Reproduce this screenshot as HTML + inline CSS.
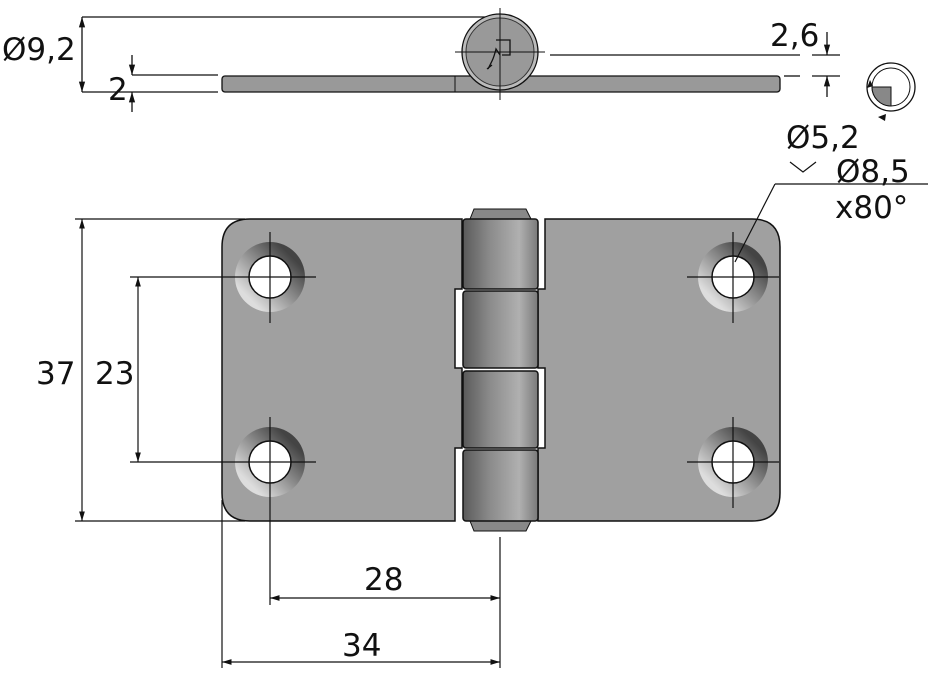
<!DOCTYPE html>
<html><head><style>
body{margin:0;background:#fff;width:945px;height:680px;overflow:hidden}
text{font-family:"DejaVu Sans","Liberation Sans",sans-serif;fill:#111}
</style></head><body>
<svg width="945" height="680" viewBox="0 0 945 680" xmlns="http://www.w3.org/2000/svg">
<defs>
<linearGradient id="kn" x1="0" x2="1">
<stop offset="0" stop-color="#5a5a5a"/><stop offset="0.35" stop-color="#8a8a8a"/><stop offset="0.75" stop-color="#b0b0b0"/><stop offset="1" stop-color="#7a7a7a"/></linearGradient>
<linearGradient id="csl" x1="0.8" y1="0.2" x2="0.2" y2="0.8"><stop offset="0" stop-color="#444"/><stop offset="1" stop-color="#ddd"/></linearGradient>
<marker id="a" viewBox="0 0 10 10" refX="10" refY="5" markerWidth="8" markerHeight="8" orient="auto-start-reverse"><path d="M0,2 L10,5 L0,8z" fill="#111"/></marker>
</defs>
<g stroke="#111" stroke-width="1.3" fill="none">
<line x1="82" y1="17" x2="505" y2="17"/>
<line x1="82" y1="17" x2="82" y2="92" marker-start="url(#a)" marker-end="url(#a)"/>
<line x1="82" y1="92" x2="218" y2="92"/>
<line x1="132" y1="75" x2="218" y2="75"/>
<line x1="132" y1="55" x2="132" y2="75" marker-end="url(#a)"/>
<line x1="132" y1="112" x2="132" y2="92" marker-end="url(#a)"/>
<line x1="550" y1="55" x2="800" y2="55"/>
<line x1="784" y1="76" x2="800" y2="76"/>
<line x1="827" y1="32" x2="827" y2="55" marker-end="url(#a)"/>
<line x1="827" y1="97" x2="827" y2="76" marker-end="url(#a)"/>
<line x1="812" y1="55" x2="840" y2="55"/><line x1="812" y1="76" x2="840" y2="76"/>
</g>
<rect x="222" y="76" width="558" height="16" rx="3" fill="#999" stroke="#111" stroke-width="1.3"/>
<line x1="455" y1="76" x2="455" y2="92" stroke="#111"/>
<circle cx="500" cy="52" r="38" fill="#bbb" stroke="#111" stroke-width="1.3"/>
<circle cx="500" cy="52" r="34" fill="#999" stroke="#333"/>
<g stroke="#111" stroke-width="1"><line x1="500" y1="8" x2="500" y2="100"/><line x1="455" y1="52" x2="545" y2="52"/></g>
<path d="M496,40 h14 v15 h-8 M500,55 l-4,-6 q-2,8 -4,12 l-4,8 M487,69 l5,-4" stroke="#111" fill="none" stroke-width="1.3"/>
<circle cx="891" cy="87" r="24" fill="none" stroke="#111" stroke-width="1.3"/>
<circle cx="891" cy="87" r="19" fill="none" stroke="#111" stroke-width="1"/>
<path d="M872,87 h19 v19 a19,19 0 0 1 -19,-19z" fill="#888" stroke="#111"/>
<path d="M886,114 l-8,3 l7,4z" fill="#111"/>
<path d="M870,80 l-3,8 l6,-2z" fill="#111"/>
<path d="M250,219 H462 V289 H455 V368 H462 V448 H455 V521 H250 Q222,521 222,493 V247 Q222,219 250,219Z" fill="#a0a0a0" stroke="#111" stroke-width="1.5"/>
<path d="M545,219 H752 Q780,219 780,247 V493 Q780,521 752,521 H538 V448 H545 V368 H538 V289 H545Z" fill="#a0a0a0" stroke="#111" stroke-width="1.5"/>
<path d="M470,219 L474,209 H526 L531,219Z" fill="#888" stroke="#111"/>
<path d="M470,521 L474,531 H526 L531,521Z" fill="#888" stroke="#111"/>
<g fill="url(#kn)" stroke="#111" stroke-width="1.5">
<rect x="463" y="219" width="75" height="70" rx="3"/>
<rect x="463" y="291" width="75" height="77" rx="3"/>
<rect x="463" y="371" width="75" height="77" rx="3"/>
<rect x="463" y="450" width="75" height="71" rx="3"/>
</g>
<g stroke="#111" stroke-width="1">
<circle cx="270" cy="277" r="35" fill="url(#csl)" stroke="none"/><circle cx="270" cy="277" r="21" fill="#fff" stroke-width="1.5"/>
<circle cx="270" cy="462" r="35" fill="url(#csl)" stroke="none"/><circle cx="270" cy="462" r="21" fill="#fff" stroke-width="1.5"/>
<circle cx="733" cy="277" r="35" fill="url(#csl)" stroke="none"/><circle cx="733" cy="277" r="21" fill="#fff" stroke-width="1.5"/>
<circle cx="733" cy="462" r="35" fill="url(#csl)" stroke="none"/><circle cx="733" cy="462" r="21" fill="#fff" stroke-width="1.5"/>
</g>
<g stroke="#111" stroke-width="1.2" fill="none">
<line x1="270" y1="232" x2="270" y2="323"/><line x1="130" y1="277" x2="316" y2="277"/>
<line x1="270" y1="417" x2="270" y2="605"/><line x1="130" y1="462" x2="316" y2="462"/>
<line x1="733" y1="232" x2="733" y2="323"/><line x1="687" y1="277" x2="779" y2="277"/>
<line x1="733" y1="417" x2="733" y2="508"/><line x1="687" y1="462" x2="779" y2="462"/>
<line x1="75" y1="219" x2="245" y2="219"/><line x1="75" y1="521" x2="245" y2="521"/>
<line x1="82" y1="219" x2="82" y2="521" marker-start="url(#a)" marker-end="url(#a)"/>
<line x1="138" y1="277" x2="138" y2="462" marker-start="url(#a)" marker-end="url(#a)"/>
<line x1="222" y1="500" x2="222" y2="668"/>
<line x1="500" y1="537" x2="500" y2="668"/>
<line x1="270" y1="598" x2="500" y2="598" marker-start="url(#a)" marker-end="url(#a)"/>
<line x1="222" y1="662" x2="500" y2="662" marker-start="url(#a)" marker-end="url(#a)"/>
<line x1="735" y1="262" x2="775" y2="184"/><line x1="775" y1="184" x2="928" y2="184"/>
<path d="M790,162 l13,10 l13,-10"/>
</g>
<g font-size="31">
<text x="2" y="60">Ø9,2</text>
<text x="108" y="100">2</text>
<text x="770" y="46">2,6</text>
<text x="786" y="148">Ø5,2</text>
<text x="836" y="182">Ø8,5</text>
<text x="835" y="218">x80°</text>
<text x="36" y="384">37</text>
<text x="95" y="384">23</text>
<text x="364" y="590">28</text>
<text x="342" y="656">34</text>
</g>
</svg>
</body></html>
